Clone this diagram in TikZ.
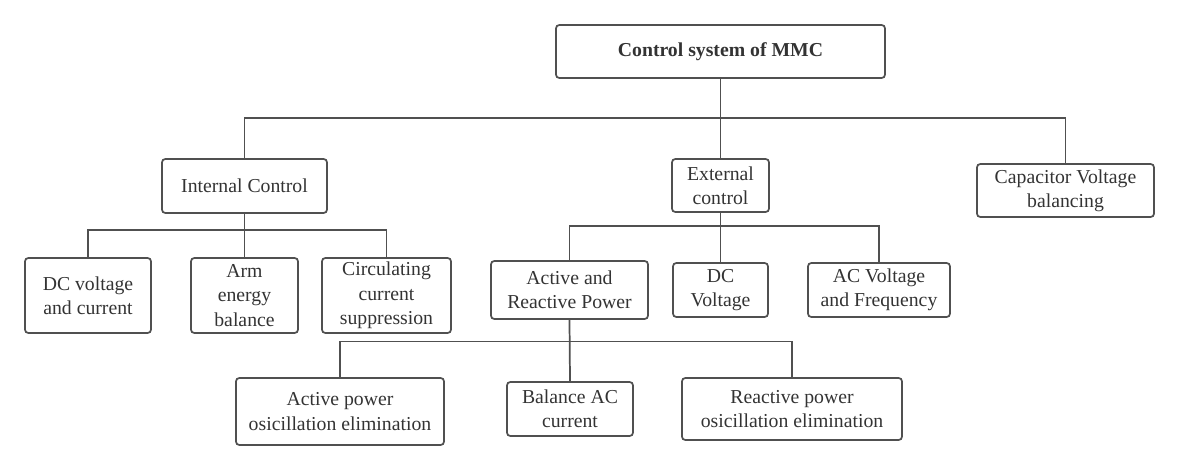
\documentclass[tikz,border=0pt]{standalone}
\usepackage{fontspec}
\setmainfont{Liberation Serif}
\usepackage{xcolor}
\definecolor{linec}{HTML}{505050}
\definecolor{textc}{HTML}{333333}
\tikzset{
	blk/.style 2 args={
			draw=linec, line width=1.3pt, rounded corners=2.5pt,
			align=center, inner sep=0pt, text=textc,
			font=\fontsize{14.8}{18.2}\selectfont,
			minimum width=#1*0.75pt, minimum height=#2*0.75pt},
	conn/.style={draw=linec, line width=1.3pt}
}

\begin{document}
\begin{tikzpicture}[x=0.75pt, y=-0.75pt]
		\useasboundingbox (0, 0) rectangle (1179, 471);

		\node[blk={329}{53}]	(root) at (720.5, 51.5) {\textbf{Control system of MMC}};

		\node[blk={165}{54}]	(intc) at (244.5, 186) {Internal Control};
		\node[blk={97}{53}]	(extc) at (720.5, 185.5) {External\\control};
		\node[blk={177}{53}]	(capv) at (1065.5, 190.5) {Capacitor Voltage\\balancing};

		\node[blk={126}{75}]	(dcvc) at (88, 295.5) {DC voltage\\and current};
		\node[blk={107}{75}]	(arm) at (244.5, 295.5) {Arm\\energy\\balance};
		\node[blk={129}{75}]	(circ) at (386.5, 295.5) {Circulating\\current\\suppression};

		\node[blk={157}{58}]	(arp) at (569.5, 290) {Active and\\Reactive Power};
		\node[blk={95}{54}]	(dcv) at (720.5, 290) {DC\\Voltage};
		\node[blk={142}{54}]	(acvf) at (879, 290) {AC Voltage\\and Frequency};

		\node[blk={208}{67}]	(apo) at (340, 411.5) {Active power\\osicillation elimination};
		\node[blk={126}{54}]	(bac) at (570, 409) {Balance AC\\current};
		\node[blk={220}{62}]	(rpo) at (792, 409) {Reactive power\\osicillation elimination};

		\coordinate (b1) at (720.5, 118);
		\coordinate (b2) at (244.5, 230);
		\coordinate (b3) at (720.5, 226);
		\coordinate (b4) at (570, 341.5);

		\draw[conn]	(intc.north) |- (b1) -| (capv.north);
		\draw[conn]	(root.south) to (extc.north);

		\draw[conn]	(dcvc.north) |- (b2) -| (circ.north);
		\draw[conn]	(intc.south) to (arm.north);

		\draw[conn]	(arp.north) |- (b3) -| (acvf.north);
		\draw[conn]	(extc.south) to (dcv.north);

		\draw[conn]	(apo.north) |- (b4) -| (rpo.north);
		\draw[conn]	(arp.south) to (bac.north);
    \end{tikzpicture}
\end{document}
